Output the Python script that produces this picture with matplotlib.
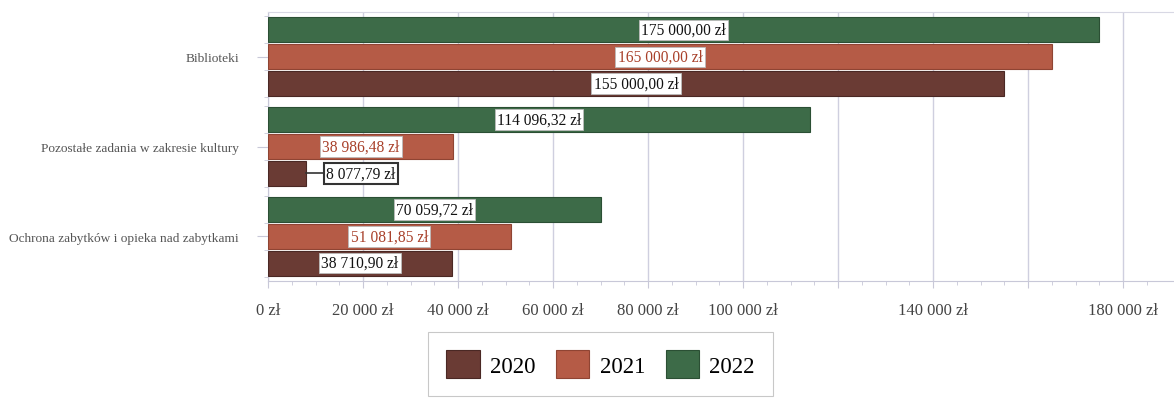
import matplotlib.pyplot as plt
import numpy as np

plt.rcParams['font.family'] = ['Liberation Serif', 'DejaVu Serif']

# data
categories = ["Ochrona zabytków i opieka nad zabytkami",
              "Pozostałe zadania w zakresie kultury",
              "Biblioteki"]
years = ["2020", "2021", "2022"]
v2020 = [38710.90, 8077.79, 155000.00]
v2021 = [51081.85, 38986.48, 165000.00]
v2022 = [70059.72, 114096.32, 175000.00]
xticks = [0, 20000, 40000, 60000, 80000, 100000, 120000, 140000, 160000, 180000]
xticklabels = ["0 zł", "20 000 zł", "40 000 zł", "60 000 zł", "80 000 zł",
               "100 000 zł", "", "140 000 zł", "", "180 000 zł"]

colors = ["#6a3b34", "#b55b46", "#3d6b48"]
edges = ["#4a2824", "#8f4433", "#2b4f34"]
textcol = ["#111111", "#a8402a", "#111111"]


def fmt(v):
    s = f"{v:,.2f}".replace(",", " ").replace(".", ",")
    return s + " zł"


fig = plt.figure(figsize=(11.74, 4.02), dpi=100)
ax = fig.add_axes([268 / 1174, 1 - 282 / 402, (1174 - 268) / 1174, 269 / 402])

y = np.arange(len(categories))
h = 0.28
offs = [-0.30, 0.0, 0.30]
for i, vals in enumerate([v2020, v2021, v2022]):
    bars = ax.barh(y + offs[i], vals, height=h, color=colors[i], edgecolor=edges[i],
                   linewidth=0.8, label=years[i], zorder=3)
    for b, v in zip(bars, vals):
        cy = b.get_y() + b.get_height() / 2
        if v < 15000:
            # small bar: label outside with leader line
            lx = 19600
            ax.plot([v, lx - 4000], [cy, cy], color="#333333", lw=1.2, zorder=4)
            ax.text(lx, cy, fmt(v), ha="center", va="center", fontsize=11.2,
                    color=textcol[i], zorder=5,
                    bbox=dict(boxstyle="square,pad=0.15", fc="white", ec="#333333", lw=1.5))
        else:
            ax.text(v / 2, cy, fmt(v), ha="center", va="center", fontsize=11.2,
                    color=textcol[i], zorder=5,
                    bbox=dict(boxstyle="square,pad=0.15", fc="white", ec="#bbbbbb", lw=0.6))

ax.set_xlim(0, 190700)
ax.set_ylim(-0.5, 2.5)
ax.set_xticks(xticks)
ax.set_xticklabels(xticklabels, fontsize=12, color="#444444")
ax.set_xticks(np.arange(0, 190000, 5000), minor=True)
ax.set_yticks(y)
ax.set_yticklabels(categories, fontsize=9.6, color="#555555")
ax.set_yticks(np.concatenate([y - 0.45, y - 0.15, y + 0.15, y + 0.45]), minor=True)
ax.tick_params(axis="x", which="major", length=5, color="#c8c8d8", pad=10)
ax.tick_params(axis="x", which="minor", length=3, color="#c8c8d8")
ax.tick_params(axis="y", which="major", length=8, color="#c8c8d8", pad=13)
ax.tick_params(axis="y", which="minor", length=3, color="#c8c8d8")
ax.grid(axis="x", color="#cfcfdf", lw=1.0, zorder=0)
ax.spines["right"].set_visible(False)
ax.spines["top"].set_color("#d8d8e4")
ax.spines["top"].set_linestyle((0, (2, 1)))
ax.spines["left"].set_color("#c8c8d8")
ax.spines["bottom"].set_color("#c8c8d8")

leg = fig.legend(loc="upper left", bbox_to_anchor=(428 / 1174, 1 - 333 / 402),
                 ncol=3, fontsize=16.5, frameon=True, fancybox=False,
                 handlelength=1.45, handleheight=1.45, handletextpad=0.45,
                 columnspacing=0.9, borderpad=0.8, borderaxespad=0)
leg.get_frame().set_edgecolor("#bbbbbb")
leg.get_frame().set_linewidth(0.8)

fig.savefig("out.png", dpi=100)
